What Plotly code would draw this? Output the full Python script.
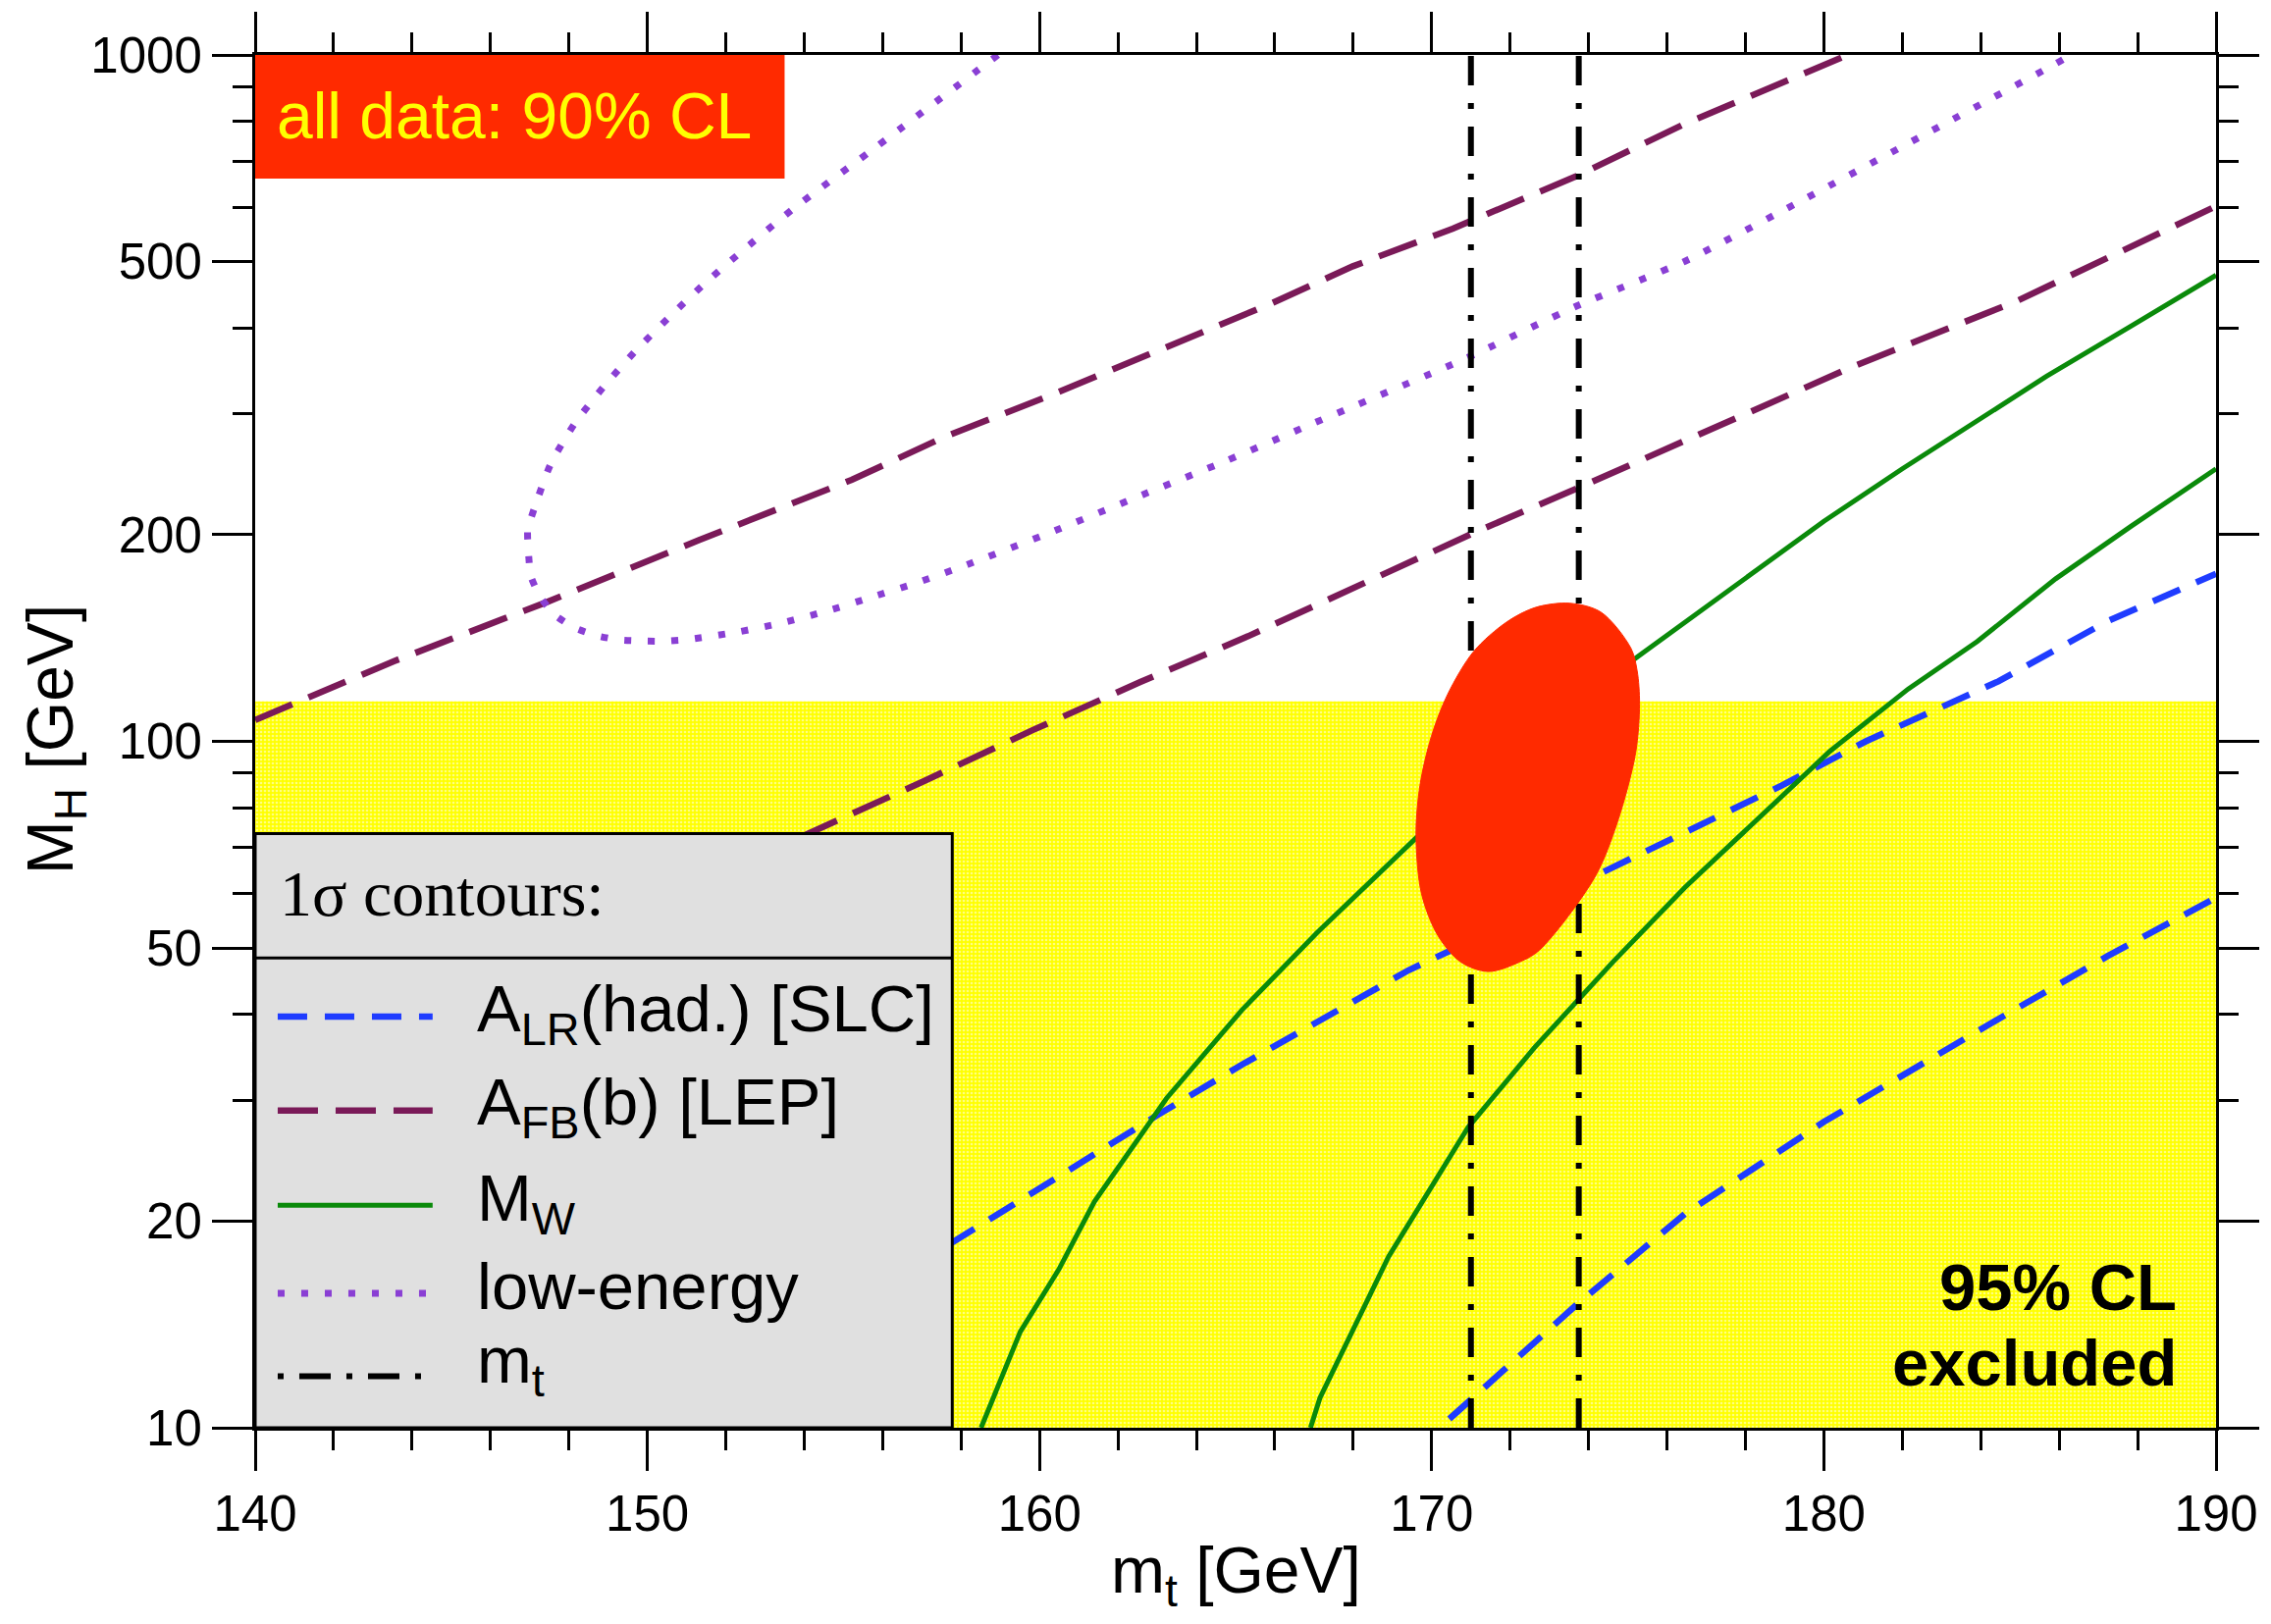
import plotly.graph_objects as go

# ---------------- data ----------------
MT_RANGE = [140, 190]
MH_RANGE = [10, 1000]
MH_LEP_LIMIT = 114.4
MT_MEASURED = [171.0, 173.75]

X_TICKS = [140, 150, 160, 170, 180, 190]
X_MINOR = [142, 144, 146, 148, 152, 154, 156, 158, 162, 164, 166, 168,
           172, 174, 176, 178, 182, 184, 186, 188]
Y_TICKS = [10, 20, 50, 100, 200, 500, 1000]
Y_TICK_TEXT = ["10", "20", "50", "100", "200", "500", "1000"]
Y_MINOR = [30, 40, 60, 70, 80, 90, 300, 400, 600, 700, 800, 900]

# A_FB(b) [LEP] 1-sigma contour (two branches)
AFB_A_MT = [140.0, 143.53, 147.42, 151.31, 155.21, 157.57, 160.41, 163.16, 165.91, 167.99, 170.54, 173.69, 176.46, 180.61]
AFB_A_MH = [107.4, 130.8, 159.4, 196.3, 240.4, 277.6, 321.5, 373.4, 434.4, 492.2, 558.5, 666, 794, 1000]
AFB_B_MT = [153.9, 155.49, 157.07, 159.82, 162.57, 165.32, 167.99, 171.16, 173.69, 176.46, 180.76, 184.91, 190.0]
AFB_B_MH = [72.5, 79.7, 87.6, 103.8, 122.0, 142.3, 167.2, 202.3, 233.4, 273.6, 352, 437.8, 602]

# low-energy 1-sigma contour
LOWE_MT = [158.94, 155.66, 153.72, 152.32, 151.41, 150.55, 149.70, 148.90, 148.15, 147.54, 147.13,
           146.95, 146.97, 147.03, 147.28, 147.66, 148.15, 148.72, 149.31, 149.92, 150.52, 151.11,
           152.32, 153.46, 154.62, 155.76, 156.92, 158.08, 160.28, 162.49, 164.74, 166.95,
           170.85, 173.69, 176.46, 179.53, 182.61, 185.91, 186.3]
LOWE_MH = [1000, 722, 597, 512.4, 461.7, 414.5, 370.7, 329.3, 290.6, 253.9, 219.5,
           203.3, 188.2, 174.0, 162.0, 152.5, 146.3, 142.5, 140.5, 140.0, 140.0, 140.9,
           144.4, 148.9, 155.1, 162.5, 170.6, 180.2, 201.5, 227.0, 256.0, 290.1,
           360.9, 430.5, 500.6, 617.7, 768, 971, 1000]

# A_LR(had.) [SLC] 1-sigma contour
ALR_A_MT = [157.7, 160.49, 162.99, 165.16, 167.32, 169.41, 170.49, 174.0, 178.92, 181.07, 184.45, 187.22, 190.0]
ALR_A_MH = [18.5, 23.3, 28.5, 33.8, 39.7, 46.4, 49.6, 63.0, 86.2, 100, 122.3, 149.5, 175.5]
ALR_B_MT = [170.45, 173.69, 176.46, 180.0, 184.15, 187.22, 190.0]
ALR_B_MH = [10.3, 15.1, 20.5, 27.9, 38.5, 48.6, 59.2]

# M_W 1-sigma contour
MW_A_MT = [158.51, 159.51, 160.49, 161.40, 163.24, 165.16, 167.07, 169.61, 175.08, 178.0, 180.0,
           182.0, 183.99, 185.68, 187.83, 190.0]
MW_A_MH = [10, 13.8, 17.0, 21.35, 30.2, 40.6, 52.6, 72.4, 130.7, 172.5, 209.2,
           249.5, 295, 340.3, 402.6, 477.6]
MW_B_MT = [166.91, 167.15, 168.90, 170.93, 172.62, 174.62, 176.46, 179.23, 180.15, 182.15,
           183.91, 185.91, 187.83, 190.0]
MW_B_MH = [10, 11.05, 17.75, 27.4, 35.8, 47.7, 61.3, 86.2, 96.7, 119.2,
           139.8, 172.5, 205.7, 249.5]

# all data: 90% CL region
ALL_MT = [172.66, 173.53, 174.32, 175.08, 175.24, 175.30, 175.20, 174.74, 174.16, 172.74,
          172.24, 171.45, 170.74, 170.16, 169.74, 169.60, 169.70, 169.99, 170.41, 171.07, 171.91]
ALL_MH = [156.8, 158.9, 154.2, 136.7, 126.6, 113.4, 96.2, 76.4, 63.4, 49.6,
          47.7, 46.2, 47.7, 52.1, 60.0, 73.1, 86.2, 101.6, 117.2, 135.2, 149.2]

LEGEND_LABELS = ["A<sub>LR</sub>(had.) [SLC]", "A<sub>FB</sub>(b) [LEP]", "M<sub>W</sub>",
                 "low-energy", "m<sub>t</sub>"]

# ---------------- styles ----------------
SANS = "Liberation Sans, Arial, Helvetica, sans-serif"
SERIF = "Liberation Serif, Times New Roman, serif"
C_BLUE = "#1f3cff"
C_MAROON = "#7a1a58"
C_GREEN = "#0a8a0a"
C_PURPLE = "#8a3fd4"
C_RED = "#ff2a00"
C_BLACK = "#000000"

D_BLUE = "30px,18px"
D_MAROON = "41px,18px"
D_PURPLE = "7px,17px"
D_BLACK = "30px,18px,6px,18px"

fig = go.Figure()

# 95% CL excluded band
fig.add_trace(go.Scatter(
    x=[MT_RANGE[0], MT_RANGE[1], MT_RANGE[1], MT_RANGE[0], MT_RANGE[0]],
    y=[MH_RANGE[0], MH_RANGE[0], MH_LEP_LIMIT, MH_LEP_LIMIT, MH_RANGE[0]],
    mode="lines", fill="toself", line=dict(width=0),
    fillcolor="#ffff00",
    fillpattern=dict(shape=".", bgcolor="#ffff00", fgcolor="#ffffff", size=4, solidity=0.35),
    hoverinfo="skip"))


def add_line(x, y, color, width, dash, shape="linear", smoothing=None):
    ln = dict(color=color, width=width, dash=dash, shape=shape)
    if smoothing is not None:
        ln["smoothing"] = smoothing
    fig.add_trace(go.Scatter(x=x, y=y, mode="lines", line=ln, hoverinfo="skip"))


add_line(AFB_A_MT, AFB_A_MH, C_MAROON, 6.5, D_MAROON)
add_line(AFB_B_MT, AFB_B_MH, C_MAROON, 6.5, D_MAROON)
add_line(LOWE_MT, LOWE_MH, C_PURPLE, 7, D_PURPLE, "spline", 0.6)
add_line(ALR_A_MT, ALR_A_MH, C_BLUE, 6.5, D_BLUE)
add_line(ALR_B_MT, ALR_B_MH, C_BLUE, 6.5, D_BLUE)
add_line(MW_A_MT, MW_A_MH, C_GREEN, 5, "solid")
add_line(MW_B_MT, MW_B_MH, C_GREEN, 5, "solid")
for m in MT_MEASURED:
    add_line([m, m], MH_RANGE, C_BLACK, 6, D_BLACK)

# 90% CL region
fig.add_trace(go.Scatter(
    x=ALL_MT + ALL_MT[:1], y=ALL_MH + ALL_MH[:1], mode="lines", fill="toself",
    fillcolor=C_RED, line=dict(color=C_RED, width=1, shape="spline", smoothing=0.9),
    hoverinfo="skip"))

# ---------------- layout (pixel geometry -> paper coords) ----------------
W, H = 2314, 1655
ML, MR, MT_, MB = 260, 54, 55, 200
PW, PH = W - ML - MR, H - MT_ - MB


def px(X):
    return (X - ML) / PW


def py(Y):
    return (MT_ + PH - Y) / PH


shapes = []
annotations = []

# "all data: 90% CL" box
shapes.append(dict(type="rect", xref="paper", yref="paper", x0=px(260), x1=px(800),
                   y0=py(181), y1=py(55), fillcolor=C_RED, line=dict(width=0), layer="above"))
annotations.append(dict(xref="paper", yref="paper", x=px(280), y=py(117), xanchor="left",
                        yanchor="middle", text="all data: 90% CL", showarrow=False,
                        font=dict(family=SANS, size=66, color="#ffff00")))

# legend box
shapes.append(dict(type="rect", xref="paper", yref="paper", x0=px(260), x1=px(971),
                   y0=py(1455), y1=py(849), fillcolor="#e0e0e0",
                   line=dict(color="black", width=3), layer="above"))
shapes.append(dict(type="line", xref="paper", yref="paper", x0=px(260), x1=px(971),
                   y0=py(976), y1=py(976), line=dict(color="black", width=3), layer="above"))
annotations.append(dict(xref="paper", yref="paper", x=px(283), y=py(910), xanchor="left",
                        yanchor="middle", text="1σ contours:", showarrow=False,
                        font=dict(family=SERIF, size=66, color="black")))

leg_styles = [(C_BLUE, 6.5, D_BLUE), (C_MAROON, 6.5, D_MAROON), (C_GREEN, 5, "solid"),
              (C_PURPLE, 7, D_PURPLE), (C_BLACK, 6, "6px,16px,32px,16px")]
leg_line_y = [1035.6, 1131.5, 1228, 1318, 1402.5]
leg_text_y = [1032, 1127, 1225, 1310, 1390]
for lab, (c, w, d), ly, ty in zip(LEGEND_LABELS, leg_styles, leg_line_y, leg_text_y):
    shapes.append(dict(type="line", xref="paper", yref="paper", x0=px(283), x1=px(441),
                       y0=py(ly), y1=py(ly), line=dict(color=c, width=w, dash=d), layer="above"))
    annotations.append(dict(xref="paper", yref="paper", x=px(484), y=py(ty), xanchor="left",
                            yanchor="middle", text=lab, showarrow=False,
                            font=dict(family=SANS, size=67, color="black")))

# 95% CL excluded
annotations.append(dict(xref="paper", yref="paper", x=px(2222), y=py(1311), xanchor="right",
                        yanchor="middle", text="<b>95% CL</b>", showarrow=False,
                        font=dict(family=SANS, size=67, color="black")))
annotations.append(dict(xref="paper", yref="paper", x=px(2222), y=py(1388), xanchor="right",
                        yanchor="middle", text="<b>excluded</b>", showarrow=False,
                        font=dict(family=SANS, size=67, color="black")))

# axis titles
annotations.append(dict(xref="paper", yref="paper", x=0.5, y=py(1605), xanchor="center",
                        yanchor="middle", text="m<sub>t</sub> [GeV]", showarrow=False,
                        font=dict(family=SANS, size=66, color="black")))
annotations.append(dict(xref="paper", yref="paper", x=px(55.5), y=py(753), xanchor="center",
                        yanchor="middle", text="M<sub>H</sub> [GeV]", showarrow=False,
                        textangle=-90, font=dict(family=SANS, size=66, color="black")))

axis_common = dict(showgrid=False, zeroline=False, showline=True, linecolor="black", linewidth=3,
                   mirror="ticks", ticks="outside", ticklen=41, tickwidth=3, tickcolor="black",
                   tickfont=dict(family=SANS, size=51, color="black"))

fig.update_layout(
    width=W, height=H,
    margin=dict(l=ML, r=MR, t=MT_, b=MB, pad=0),
    paper_bgcolor="white", plot_bgcolor="white",
    showlegend=False,
    shapes=shapes, annotations=annotations,
    xaxis=dict(range=MT_RANGE, tickmode="array", tickvals=X_TICKS,
               ticktext=[str(v) for v in X_TICKS],
               minor=dict(tickmode="array", tickvals=X_MINOR, ticks="outside", ticklen=20,
                          tickwidth=3, tickcolor="black", showgrid=False),
               **axis_common),
    yaxis=dict(type="log", range=[1, 3], tickmode="array", tickvals=Y_TICKS, ticktext=Y_TICK_TEXT,
               minor=dict(tickmode="array", tickvals=Y_MINOR, ticks="outside", ticklen=20,
                          tickwidth=3, tickcolor="black", showgrid=False),
               **axis_common),
)

fig.write_html("out.html", config={"displayModeBar": False},
               post_script="document.body.style.margin='0';document.body.style.overflow='hidden';")
